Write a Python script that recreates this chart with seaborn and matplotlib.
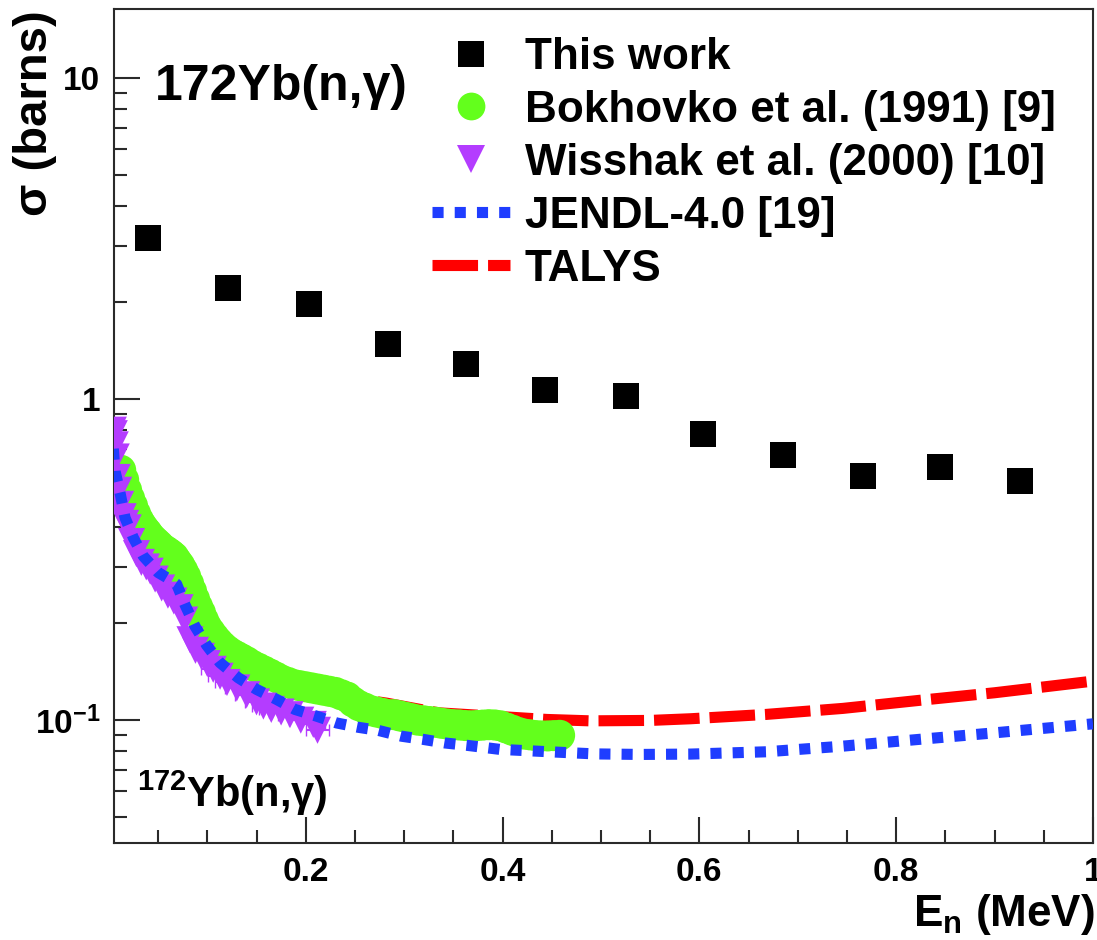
import matplotlib
matplotlib.use("Agg")
import matplotlib.pyplot as plt
from matplotlib.lines import Line2D
from matplotlib.ticker import FixedLocator, FixedFormatter, NullFormatter
import seaborn as sns
import pandas as pd

# ---------------- data ----------------
this_E = [0.040, 0.121, 0.203, 0.284, 0.363, 0.443, 0.525, 0.604, 0.685, 0.766, 0.845, 0.926]
this_sig = [3.17, 2.22, 1.98, 1.48, 1.29, 1.07, 1.02, 0.778, 0.668, 0.574, 0.614, 0.554]

bokh_E = [0.012, 0.015, 0.018, 0.021, 0.024, 0.027, 0.030, 0.033, 0.036, 0.039, 0.042, 0.045,
          0.048, 0.051, 0.054, 0.057, 0.060, 0.063, 0.066, 0.069, 0.072, 0.075, 0.078, 0.081,
          0.084, 0.087, 0.090, 0.093, 0.096, 0.099, 0.103, 0.107, 0.111, 0.115, 0.120, 0.125,
          0.130, 0.135, 0.140, 0.146, 0.152, 0.158, 0.164, 0.170, 0.176, 0.182, 0.188, 0.194,
          0.200, 0.206, 0.212, 0.218, 0.224, 0.230, 0.236, 0.242, 0.248, 0.254, 0.260, 0.266,
          0.272, 0.278, 0.284, 0.290, 0.296, 0.302, 0.308, 0.314, 0.320, 0.326, 0.332, 0.338,
          0.344, 0.350, 0.356, 0.362, 0.368, 0.374, 0.380, 0.386, 0.392, 0.398, 0.404, 0.410,
          0.416, 0.422, 0.428, 0.434, 0.440, 0.446, 0.452, 0.458]
bokh_sig = [0.60, 0.56, 0.52, 0.49, 0.465, 0.44, 0.42, 0.405, 0.393, 0.383, 0.372, 0.364,
            0.357, 0.350, 0.342, 0.338, 0.333, 0.328, 0.322, 0.312, 0.303, 0.292, 0.280, 0.266,
            0.252, 0.238, 0.226, 0.216, 0.205, 0.196, 0.188, 0.181, 0.175, 0.170, 0.165, 0.161,
            0.158, 0.155, 0.152, 0.148, 0.145, 0.142, 0.139, 0.136, 0.133, 0.131, 0.129, 0.128,
            0.127, 0.126, 0.125, 0.124, 0.123, 0.122, 0.120, 0.118, 0.114, 0.111, 0.109, 0.107,
            0.106, 0.105, 0.104, 0.104, 0.103, 0.102, 0.101, 0.100, 0.0995, 0.0990, 0.0985, 0.0978,
            0.0972, 0.0968, 0.0966, 0.0962, 0.0960, 0.0962, 0.0965, 0.0968, 0.0966, 0.0960, 0.0945, 0.0930,
            0.0915, 0.0905, 0.0900, 0.0895, 0.0893, 0.0893, 0.0895, 0.0897]

wiss_E = [0.0045, 0.0055, 0.0065, 0.0075, 0.0085, 0.0100, 0.0120, 0.0145, 0.0170, 0.0197,
          0.023, 0.028, 0.033, 0.038, 0.042, 0.047, 0.0536, 0.060, 0.066, 0.0723, 0.077,
          0.0824, 0.088, 0.094, 0.100, 0.106, 0.113, 0.120, 0.130, 0.140, 0.150, 0.157,
          0.165, 0.175, 0.184, 0.195, 0.2077, 0.212]
wiss_sig = [0.80, 0.78, 0.72, 0.66, 0.57, 0.52, 0.47, 0.43, 0.41, 0.397,
            0.36, 0.33, 0.31, 0.30, 0.291, 0.275, 0.258, 0.245, 0.235, 0.224, 0.205,
            0.178, 0.165, 0.158, 0.150, 0.144, 0.137, 0.131, 0.126, 0.120, 0.114, 0.1106,
            0.108, 0.106, 0.104, 0.100, 0.097, 0.093]

jendl_E = [0.0045, 0.0062, 0.0113, 0.0164, 0.0248, 0.035, 0.0502, 0.0605, 0.0689, 0.0773,
           0.0875, 0.0994, 0.1129, 0.1315, 0.150, 0.1705, 0.189, 0.211, 0.2315, 0.2534,
           0.2738, 0.2975, 0.3195, 0.3415, 0.3636, 0.397, 0.4516, 0.494, 0.540, 0.591,
           0.668, 0.746, 0.823, 0.900, 1.0]
jendl_sig = [0.70, 0.597, 0.511, 0.427, 0.370, 0.324, 0.288, 0.276, 0.265, 0.229,
             0.196, 0.171, 0.151, 0.1355, 0.1247, 0.116, 0.108, 0.1029, 0.098, 0.095,
             0.0929, 0.0891, 0.0871, 0.0849, 0.0835, 0.0811, 0.0796, 0.0785, 0.0782, 0.0784,
             0.0797, 0.0830, 0.0871, 0.0913, 0.0974]

talys_E = [0.0045, 0.010, 0.015, 0.025, 0.040, 0.060, 0.080, 0.100, 0.116, 0.137, 0.164,
           0.191, 0.220, 0.248, 0.282, 0.335, 0.391, 0.445, 0.489, 0.550, 0.591, 0.668,
           0.746, 0.823, 0.900, 1.0]
talys_sig = [0.66, 0.50, 0.43, 0.37, 0.32, 0.28, 0.235, 0.200, 0.180, 0.162, 0.142,
             0.129, 0.121, 0.117, 0.113, 0.1054, 0.1029, 0.1005, 0.0995, 0.0998, 0.101, 0.1042,
             0.1088, 0.1152, 0.1217, 0.1323]

y_ticks = [0.1, 1, 10]
y_ticklabels = ["10$^{-1}$", "1", "10"]
x_ticks = [0.2, 0.4, 0.6, 0.8, 1.0]
x_ticklabels = ["0.2", "0.4", "0.6", "0.8", "1"]

legend_labels = ["This work", "Bokhovko et al. (1991) [9]", "Wisshak et al. (2000) [10]",
                 "JENDL-4.0 [19]", "TALYS"]

# ---------------- style ----------------
sns.set_theme(style="ticks")
plt.rcParams["font.family"] = ["Liberation Sans", "DejaVu Sans"]
plt.rcParams["font.weight"] = "bold"
plt.rcParams["text.color"] = "black"
plt.rcParams["axes.labelcolor"] = "black"
plt.rcParams["xtick.color"] = "black"
plt.rcParams["ytick.color"] = "black"
plt.rcParams["mathtext.fontset"] = "custom"
plt.rcParams["mathtext.rm"] = "Liberation Sans:bold"
plt.rcParams["mathtext.it"] = "Liberation Sans:bold"
plt.rcParams["mathtext.bf"] = "Liberation Sans:bold"
plt.rcParams["mathtext.sf"] = "Liberation Sans:bold"

C_GREEN = "#63FF1C"
C_PURPLE = "#B43CFF"
C_BLUE = "#1F3DFF"
C_RED = "#FF0000"
AX_COL = "#2a2a2a"

W, H = 1097, 940
fig = plt.figure(figsize=(W / 100, H / 100), dpi=100)
L, R, T, B = 114, 1093, 9, 843
ax = fig.add_axes([L / W, 1 - B / H, (R - L) / W, (B - T) / H])

LW = 8.0
sns.lineplot(x=talys_E, y=talys_sig, ax=ax, color=C_RED, linewidth=LW,
             linestyle=(0, (4.1, 0.9)), estimator=None, sort=False, errorbar=None,
             zorder=2, dash_capstyle="butt")
sns.scatterplot(x=bokh_E, y=bokh_sig, ax=ax, color=C_GREEN, marker="o", s=500,
                edgecolor="none", linewidth=0, zorder=3)
ax.errorbar([e for e in wiss_E if e > 0.1], [s for e, s in zip(wiss_E, wiss_sig) if e > 0.1],
            xerr=0.012, fmt="none", ecolor=C_PURPLE, elinewidth=1.5, capsize=4, zorder=3.5)
sns.scatterplot(x=wiss_E, y=wiss_sig, ax=ax, color=C_PURPLE, marker="v", s=380,
                edgecolor="none", linewidth=0, zorder=4)
sns.lineplot(x=jendl_E, y=jendl_sig, ax=ax, color=C_BLUE, linewidth=LW,
             linestyle=(0, (1.0, 1.0)), estimator=None, sort=False, errorbar=None,
             zorder=5, dash_capstyle="butt")
sns.scatterplot(x=this_E, y=this_sig, ax=ax, color="black", marker="s", s=350,
                edgecolor="none", linewidth=0, zorder=6)

ax.set_yscale("log")
ax.set_xlim(0.0052, 1.0)
ax.set_ylim(0.04144, 16.39)

ax.yaxis.set_major_locator(FixedLocator(y_ticks))
ax.yaxis.set_major_formatter(FixedFormatter(y_ticklabels))
ax.yaxis.set_minor_locator(FixedLocator([m * d for d in (0.01, 0.1, 1) for m in range(2, 10)]))
ax.yaxis.set_minor_formatter(NullFormatter())
ax.xaxis.set_major_locator(FixedLocator(x_ticks))
ax.xaxis.set_major_formatter(FixedFormatter(x_ticklabels))
ax.xaxis.set_minor_locator(FixedLocator([0.05, 0.1, 0.15, 0.25, 0.3, 0.35, 0.45, 0.5, 0.55,
                                         0.65, 0.7, 0.75, 0.85, 0.9, 0.95]))

ax.tick_params(which="both", direction="in", colors=AX_COL, labelcolor="black",
               top=False, right=False)
ax.tick_params(which="major", length=19, width=1.5, labelsize=24, pad=10)
ax.tick_params(which="minor", length=9.5, width=1.5)
for sp in ax.spines.values():
    sp.set_color(AX_COL)
    sp.set_linewidth(1.5)
ax.set_xlabel("")
ax.set_ylabel("")

# axis titles
fig.text(35 / W, 1 - 10 / H, "σ (barns)", rotation=90, ha="center", va="top",
         fontsize=34, fontweight="bold", color="black")
fig.text(1095 / W, 1 - 926 / H, "E$_{n}$ (MeV)", ha="right", va="baseline",
         fontsize=31.7, fontweight="bold", color="black")

# annotations
fig.text(155 / W, 1 - 100 / H, "172Yb(n,γ)", ha="left", va="baseline",
         fontsize=36, fontweight="bold", color="black")
fig.text(137 / W, 1 - 807 / H, "$^{172}$Yb(n,γ)", ha="left", va="baseline",
         fontsize=30, fontweight="bold", color="black")

# legend
handles = [
    Line2D([], [], ls="none", marker="s", markersize=18.7, color="black", markeredgewidth=0),
    Line2D([], [], ls="none", marker="o", markersize=20, color=C_GREEN, markeredgewidth=0),
    Line2D([], [], ls="none", marker="v", markersize=20, color=C_PURPLE, markeredgewidth=0),
    Line2D([], [], color=C_BLUE, lw=LW, ls=(0, (1.0, 1.0)), dash_capstyle="butt"),
    Line2D([], [], color=C_RED, lw=LW, ls=(0, (4.1, 0.9)), dash_capstyle="butt"),
]
leg = ax.legend(handles, legend_labels, loc="upper left",
                bbox_to_anchor=(432 / W, 1 - 37 / H), bbox_transform=fig.transFigure,
                frameon=False, fontsize=31.7, handlelength=1.77, handletextpad=0.34,
                labelspacing=0.27, borderpad=0, borderaxespad=0)
for t in leg.get_texts():
    t.set_fontweight("bold")
    t.set_color("black")

fig.savefig("out.png", dpi=100)
